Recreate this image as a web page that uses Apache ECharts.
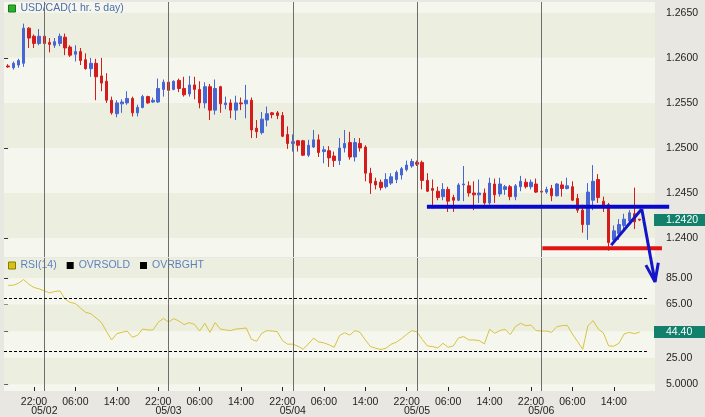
<!DOCTYPE html>
<html>
<head>
<meta charset="utf-8">
<script src="https://cdn.jsdelivr.net/npm/echarts@6/dist/echarts.min.js"></script>
<style>
html,body{margin:0;padding:0;background:#e9e7e1;}
#chart{width:705px;height:417px;}
</style>
</head>
<body>
<div id="chart"></div>
<script>
// ---------- data (hourly USD/CAD candles, 05/01 17:00 -> 05/06 19:00) ----------
const dayLabels = ['05/01','05/02','05/03','05/04','05/05','05/06'];
const firstHour = 17;

const opens = [1.2591,1.2589,1.2592,1.2594,1.2633,1.2624,1.2616,1.2624,1.2617,1.2614,
1.2616,1.2623,1.2612,1.2604,1.2607,1.2598,1.2588,1.2594,1.2580,1.2574,
1.2553,1.2538,1.2549,1.2550,1.2555,1.2539,1.2545,1.2557,1.2551,1.2551,
1.2565,1.2573,1.2565,1.2575,1.2566,1.2560,1.2570,1.2565,1.2550,1.2568,
1.2542,1.2568,1.2548,1.2550,1.2542,1.2550,1.2549,1.2553,1.2522,1.2517,
1.2531,1.2539,1.2539,1.2536,1.2515,1.2505,1.2508,1.2508,1.2492,1.2501,
1.2509,1.2496,1.2497,1.2491,1.2486,1.2500,1.2506,1.2490,1.2505,1.2501,
1.2472,1.2463,1.2462,1.2457,1.2461,1.2465,1.2470,1.2476,1.2480,1.2484,
1.2484,1.2464,1.2455,1.2452,1.2446,1.2454,1.2445,1.2442,1.2459,1.2458,
1.2450,1.2448,1.2450,1.2439,1.2460,1.2449,1.2454,1.2457,1.2446,1.2457,
1.2462,1.2457,1.2460,1.2452,1.2451,1.2455,1.2447,1.2459,1.2455,1.2457,
1.2444,1.2431,1.2415,1.2442,1.2465,1.2441,1.2437,1.2398,1.2405,1.2414,
1.2419,1.2427,1.2421];
const highs = [1.2593,1.2596,1.2599,1.2638,1.2634,1.2626,1.2632,1.2628,1.2622,1.2622,
1.2627,1.2627,1.2614,1.2614,1.2611,1.2605,1.2600,1.2599,1.2600,1.2583,
1.2557,1.2553,1.2554,1.2563,1.2557,1.2548,1.2559,1.2558,1.2556,1.2577,
1.2576,1.2575,1.2575,1.2577,1.2579,1.2580,1.2579,1.2574,1.2573,1.2571,
1.2576,1.2569,1.2557,1.2554,1.2558,1.2556,1.2570,1.2556,1.2531,1.2540,
1.2546,1.2540,1.2541,1.2540,1.2524,1.2515,1.2509,1.2509,1.2509,1.2520,
1.2515,1.2502,1.2502,1.2496,1.2511,1.2520,1.2518,1.2511,1.2511,1.2503,
1.2478,1.2467,1.2465,1.2472,1.2472,1.2475,1.2479,1.2486,1.2488,1.2486,
1.2486,1.2472,1.2465,1.2457,1.2461,1.2457,1.2448,1.2461,1.2480,1.2463,
1.2463,1.2465,1.2455,1.2467,1.2466,1.2467,1.2459,1.2459,1.2460,1.2469,
1.2466,1.2465,1.2466,1.2453,1.2457,1.2459,1.2461,1.2463,1.2467,1.2463,
1.2449,1.2437,1.2461,1.2481,1.2471,1.2446,1.2439,1.2414,1.2421,1.2427,
1.2431,1.2456,1.2421];
const lows = [1.2589,1.2587,1.2589,1.2590,1.2611,1.2611,1.2614,1.2613,1.2606,1.2611,
1.2613,1.2603,1.2601,1.2596,1.2592,1.2587,1.2579,1.2553,1.2563,1.2550,
1.2537,1.2534,1.2539,1.2548,1.2535,1.2535,1.2544,1.2549,1.2550,1.2550,
1.2557,1.2563,1.2564,1.2562,1.2557,1.2557,1.2554,1.2544,1.2544,1.2531,
1.2537,1.2539,1.2543,1.2533,1.2531,1.2542,1.2533,1.2511,1.2511,1.2515,
1.2524,1.2533,1.2532,1.2512,1.2499,1.2496,1.2496,1.2491,1.2490,1.2500,
1.2490,1.2483,1.2479,1.2479,1.2481,1.2495,1.2487,1.2485,1.2496,1.2463,
1.2449,1.2454,1.2453,1.2455,1.2459,1.2461,1.2465,1.2474,1.2478,1.2480,
1.2454,1.2451,1.2433,1.2442,1.2442,1.2429,1.2429,1.2441,1.2441,1.2446,
1.2431,1.2439,1.2437,1.2437,1.2439,1.2446,1.2448,1.2442,1.2442,1.2452,
1.2455,1.2454,1.2450,1.2449,1.2449,1.2441,1.2446,1.2446,1.2454,1.2441,
1.2428,1.2406,1.2398,1.2431,1.2439,1.2429,1.2386,1.2394,1.2398,1.2409,
1.2416,1.2410,1.2419];
const closes = [1.2590,1.2594,1.2597,1.2633,1.2622,1.2616,1.2624,1.2616,1.2615,1.2618,
1.2624,1.2611,1.2603,1.2607,1.2597,1.2588,1.2594,1.2579,1.2572,1.2553,
1.2539,1.2550,1.2551,1.2555,1.2539,1.2545,1.2557,1.2550,1.2553,1.2566,
1.2573,1.2564,1.2574,1.2566,1.2559,1.2570,1.2565,1.2550,1.2568,1.2542,
1.2566,1.2549,1.2550,1.2542,1.2550,1.2549,1.2553,1.2520,1.2518,1.2532,
1.2538,1.2537,1.2536,1.2513,1.2505,1.2507,1.2503,1.2492,1.2503,1.2509,
1.2495,1.2498,1.2489,1.2486,1.2500,1.2505,1.2490,1.2506,1.2500,1.2472,
1.2461,1.2459,1.2456,1.2465,1.2468,1.2473,1.2477,1.2481,1.2485,1.2482,
1.2464,1.2452,1.2453,1.2445,1.2454,1.2441,1.2442,1.2459,1.2460,1.2450,
1.2448,1.2450,1.2439,1.2461,1.2448,1.2460,1.2457,1.2446,1.2458,1.2463,
1.2457,1.2462,1.2451,1.2451,1.2454,1.2447,1.2460,1.2455,1.2458,1.2442,
1.2431,1.2415,1.2451,1.2463,1.2445,1.2434,1.2395,1.2408,1.2415,1.2421,
1.2428,1.2418,1.2420];
const rsi14 = [79.5,79.5,81.0,83.8,80.3,77.8,76.8,75.3,73.8,74.8,
75.3,69.1,66.6,65.8,62.3,59.1,58.1,54.9,51.6,44.9,
38.4,43.1,44.1,45.1,40.4,41.9,46.6,45.9,45.9,51.6,
54.6,51.9,54.4,52.6,49.9,51.4,50.1,45.1,50.9,44.1,
51.4,46.6,45.9,45.4,46.6,46.9,47.4,38.9,37.4,43.4,
45.4,45.1,44.6,37.9,35.2,35.2,33.7,31.4,35.4,39.7,
36.9,36.2,34.7,32.9,41.6,43.9,42.0,45.4,44.1,38.4,
33.4,32.2,31.2,32.2,35.2,36.7,39.4,42.6,45.4,44.4,
38.7,33.9,33.4,32.4,35.9,32.9,33.9,39.9,40.9,38.4,
38.4,37.9,35.4,46.4,43.4,45.4,46.4,42.4,48.4,50.9,
49.1,49.6,45.4,45.1,45.1,44.1,48.4,49.1,49.4,42.9,
37.2,31.4,49.1,52.9,46.6,43.6,33.9,33.7,35.9,42.9,
44.1,43.1,44.4];
const oversold = 30, overbought = 70;

// axis ticks / labels
const priceTicks = [1.2400,1.2450,1.2500,1.2550,1.2600,1.2650];
const rsiTicks = [5,25,45,65,85];
const rsiLabels = [5,25,65,85];
const priceRange = [1.2379, 1.2662];
const rsiRange = [0, 100];
const mainDarkBands = [[1.2400,1.2450],[1.2500,1.2550],[1.2600,1.2650]];
const rsiDarkBands = [[5,25],[45,65],[85,100]];
const guideEnd = 123.4;

// hand-drawn annotations (category index, price)
const resistanceLine = [[80.9,1.24348],[127.7,1.24348]];
const supportLine = [[103.2,1.23886],[126.3,1.23886]];
const riseLine = [[116.5,1.23922],[122.4,1.24322]];
const dropLine = [[122.4,1.24322],[124.96,1.23514]];
const arrowHead = [[123.2,1.23700],[124.96,1.23514],[125.6,1.23726]];

// ---------- derived ----------
const N = closes.length;
const SLOTS = 125;
const categories = [];
const hourOf = [];
for (let i = 0; i < SLOTS; i++) {
  const t = firstHour + i;
  const d = Math.floor(t / 24), h = t % 24;
  hourOf.push(h);
  categories.push((dayLabels[d] || '') + ' ' + String(h).padStart(2,'0') + ':00');
}
const timeTickIdx = [], midnightIdx = [];
for (let i = 0; i < N; i++) {
  if (hourOf[i] === 22 || hourOf[i] === 6 || hourOf[i] === 14) timeTickIdx.push(i);
  if (hourOf[i] === 0) midnightIdx.push(i);
}
const X_MIN = -0.79, X_MAX = 124.96;
const SLOT_PX = 651 / (X_MAX - X_MIN);
const ANN_WIDTH = 701;
const ANN_X_MAX = X_MIN + ANN_WIDTH / SLOT_PX;
const candles = opens.map((o, i) => [o, closes[i], lows[i], highs[i]]);
const LIGHT = '#f5f7ee', DARK = '#ecefdf';
const FONT = 'Liberation Sans, Arial, sans-serif';
const dayLineStyle = {color:'#6e6e6e', width:1, type:'solid'};

function annSeries(name, data, color, width) {
  return {type:'line', name:name, xAxisIndex:3, yAxisIndex:3, data:data, clip:false,
    symbol:'none', silent:true, z:6, lineStyle:{color:color, width:width}};
}

const chart = echarts.init(document.getElementById('chart'), null, {renderer:'canvas'});
const option = {
  animation:false,
  backgroundColor:'#e9e7e1',
  textStyle:{fontFamily:FONT},
  legend:[
    {left:8, top:3, padding:0, icon:'rect', itemWidth:7, itemHeight:7, selectedMode:false,
     textStyle:{color:'#4c6cab', fontSize:10.5, fontFamily:FONT},
     data:[{name:'USD/CAD(1 hr. 5 day)', itemStyle:{color:'#2bb02b', borderColor:'#147a14', borderWidth:1}}]},
    {left:8, top:260, padding:0, icon:'rect', itemWidth:7, itemHeight:7, itemGap:10, selectedMode:false,
     textStyle:{color:'#5f80c0', fontSize:10.5, fontFamily:FONT},
     data:[{name:'RSI(14)', itemStyle:{color:'#d6c21a', borderColor:'#8a7a00', borderWidth:1}},
           {name:'OVRSOLD', itemStyle:{color:'#000'}},
           {name:'OVRBGHT', itemStyle:{color:'#000'}}]}
  ],
  grid:[
    {left:4, width:651, top:2, height:255, show:true, backgroundColor:LIGHT, borderWidth:0},
    {left:5.5, width:647.1, top:2, height:255},
    {left:4, width:651, top:258, height:133, show:true, backgroundColor:LIGHT, borderWidth:0},
    {left:4, width:ANN_WIDTH, top:2, height:255}
  ],
  xAxis:[
    {gridIndex:0, type:'value', min:X_MIN, max:X_MAX, show:false},
    {gridIndex:1, type:'category', data:categories, boundaryGap:true, show:false},
    {gridIndex:2, type:'value', min:X_MIN, max:X_MAX,
     axisLine:{show:false}, splitLine:{show:false},
     axisTick:{show:true, inside:true, length:4, customValues:timeTickIdx, lineStyle:{color:'#222'}},
     axisLabel:{customValues:timeTickIdx, margin:6, color:'#1e1e1e', fontSize:10.5, fontFamily:FONT,
       formatter:v => categories[Math.round(v)].split(' ')[1]}},
    {gridIndex:3, type:'value', min:X_MIN, max:ANN_X_MAX, show:false},
    {gridIndex:2, type:'value', min:X_MIN, max:X_MAX, position:'bottom',
     axisLine:{show:false}, splitLine:{show:false}, axisTick:{show:false},
     axisLabel:{customValues:midnightIdx, margin:14.5, color:'#1e1e1e', fontSize:10.5, fontFamily:FONT,
       formatter:v => categories[Math.round(v)].split(' ')[0]}}
  ],
  yAxis:[
    {gridIndex:0, type:'value', min:priceRange[0], max:priceRange[1], position:'right',
     axisLine:{show:false}, splitLine:{show:false},
     axisTick:{show:true, inside:true, length:4, customValues:priceTicks, lineStyle:{color:'#333'}},
     axisLabel:{customValues:priceTicks, margin:11, color:'#1e1e1e', fontSize:10.5, fontFamily:FONT,
       formatter:v => v.toFixed(4)}},
    {gridIndex:1, type:'value', min:priceRange[0], max:priceRange[1], show:false},
    {gridIndex:2, type:'value', min:rsiRange[0], max:rsiRange[1], position:'right',
     axisLine:{show:false}, splitLine:{show:false},
     axisTick:{show:true, inside:true, length:4, customValues:rsiTicks, lineStyle:{color:'#333'}},
     axisLabel:{customValues:rsiLabels, margin:11, color:'#1e1e1e', fontSize:10.5, fontFamily:FONT,
       formatter:v => v === 5 ? '5.0000' : v.toFixed(2)}},
    {gridIndex:3, type:'value', min:priceRange[0], max:priceRange[1], show:false}
  ],
  series:[
    {type:'line', name:'mainBands', xAxisIndex:0, yAxisIndex:0, data:[], silent:true, z:1,
     markArea:{silent:true, itemStyle:{color:DARK}, data:mainDarkBands.map(b => [{yAxis:b[0]},{yAxis:b[1]}])},
     markLine:{silent:true, symbol:'none', label:{show:false}, lineStyle:dayLineStyle,
       data:midnightIdx.map(i => ({xAxis:i}))}},
    {type:'candlestick', name:'USD/CAD(1 hr. 5 day)', xAxisIndex:1, yAxisIndex:1, data:candles, z:3,
     barWidth:3,
     itemStyle:{color:'#4766d4', color0:'#d41c1c', borderColor:'#4766d4', borderColor0:'#d41c1c', borderWidth:1}},
    annSeries('resistance', resistanceLine, '#0808cc', 4),
    annSeries('support', supportLine, '#e01414', 4),
    annSeries('rise', riseLine, '#1414c8', 3),
    annSeries('drop', dropLine, '#1414c8', 3),
    annSeries('arrow', arrowHead, '#1414c8', 3),
    {type:'line', name:'RSI(14)', xAxisIndex:2, yAxisIndex:2, data:rsi14.map((v,i) => [i,v]), symbol:'none', silent:true, z:4,
     lineStyle:{color:'#d9c23e', width:1}, itemStyle:{color:'#d6c21a'},
     markArea:{silent:true, itemStyle:{color:DARK}, data:rsiDarkBands.map(b => [{yAxis:b[0]},{yAxis:b[1]}])},
     markLine:{silent:true, symbol:'none', label:{show:false}, lineStyle:dayLineStyle,
       data:midnightIdx.map(i => ({xAxis:i}))}},
    {type:'line', name:'OVRSOLD', xAxisIndex:2, yAxisIndex:2, data:[], silent:true, z:3, itemStyle:{color:'#000'},
     markLine:{silent:true, symbol:'none', label:{show:false}, lineStyle:{color:'#000', width:1, type:[3,2]},
       data:[[{xAxis:X_MIN, yAxis:oversold},{xAxis:guideEnd, yAxis:oversold}]]}},
    {type:'line', name:'OVRBGHT', xAxisIndex:2, yAxisIndex:2, data:[], silent:true, z:3, itemStyle:{color:'#000'},
     markLine:{silent:true, symbol:'none', label:{show:false}, lineStyle:{color:'#000', width:1, type:[3,2]},
       data:[[{xAxis:X_MIN, yAxis:overbought},{xAxis:guideEnd, yAxis:overbought}]]}}
  ]
};
chart.setOption(option);

// last-value badges on the right axes
const lastClose = closes[N-1], lastRsi = rsi14[N-1];
const yb = chart.convertToPixel({yAxisIndex:0}, lastClose);
const yr = chart.convertToPixel({yAxisIndex:2}, lastRsi);
const xr = chart.convertToPixel({xAxisIndex:0}, X_MAX);
function badge(y, txt) {
  return {type:'group', z:100, children:[
    {type:'rect', z:100, shape:{x:xr - 1, y:y - 6, width:705 - xr + 1, height:12}, style:{fill:'#12806a'}},
    {type:'text', z:101, style:{x:xr + 11, y:y, text:txt, fill:'#ffffff', font:'10.5px ' + FONT, verticalAlign:'middle', align:'left'}}
  ]};
}
chart.setOption({graphic:[badge(yb, lastClose.toFixed(4)), badge(yr, lastRsi.toFixed(2))]});
</script>
</body>
</html>
